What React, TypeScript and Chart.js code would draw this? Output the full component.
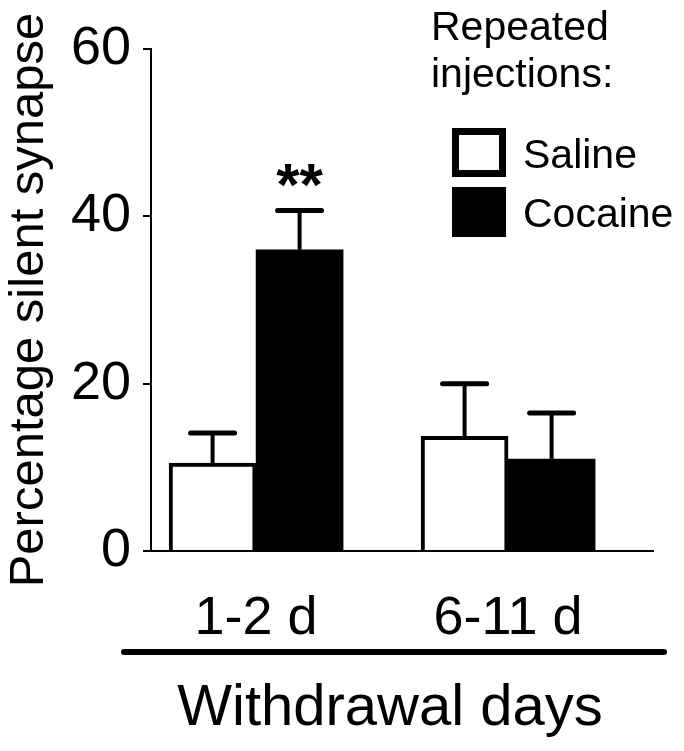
import React, { useEffect, useRef } from 'react';
import { Chart, registerables } from 'chart.js';

Chart.register(...registerables);

// ---- data ----
const categories = ['1-2 d', '6-11 d'];
const salineValues = [10.5, 13.7];
const salineErrors = [3.6, 6.3];
const cocaineValues = [36.0, 11.0];
const cocaineErrors = [4.7, 5.5];
const cocaineMarks = ['**', ''];
const yTickValues = [0, 20, 40, 60];
const seriesNames = ['Saline', 'Cocaine'];
const legendTitle = ['Repeated', 'injections:'];
const yAxisTitle = 'Percentage silent synapse';
const xAxisTitle = 'Withdrawal days';

const FONT = '"Liberation Sans", Arial, Helvetica, sans-serif';

const errorsByDataset = [salineErrors, cocaineErrors];
const marksByDataset = [['', ''], cocaineMarks];

const errorBarPlugin = {
  id: 'errorBars',
  afterDatasetsDraw(chart: any) {
    const ctx = chart.ctx;
    const yScale = chart.scales.y;
    chart.data.datasets.forEach((ds: any, di: number) => {
      const meta = chart.getDatasetMeta(di);
      meta.data.forEach((el: any, i: number) => {
        const v = ds.data[i].y;
        const e = errorsByDataset[di][i];
        const yTop = yScale.getPixelForValue(v);
        const yErr = yScale.getPixelForValue(v + e);
        ctx.save();
        ctx.strokeStyle = '#000';
        ctx.lineWidth = 4;
        ctx.lineCap = 'butt';
        ctx.beginPath();
        ctx.moveTo(el.x, yTop);
        ctx.lineTo(el.x, yErr);
        ctx.stroke();
        ctx.lineWidth = 5;
        ctx.lineCap = 'round';
        ctx.beginPath();
        ctx.moveTo(el.x - 22, yErr);
        ctx.lineTo(el.x + 22, yErr);
        ctx.stroke();
        const mark = marksByDataset[di][i];
        if (mark) {
          ctx.fillStyle = '#000';
          ctx.font = `bold 60px ${FONT}`;
          ctx.textAlign = 'center';
          ctx.textBaseline = 'alphabetic';
          ctx.fillText(mark, el.x, yErr - 5);
        }
        ctx.restore();
      });
    });
  },
};

const decorPlugin = {
  id: 'decor',
  afterDraw(chart: any) {
    const ctx = chart.ctx;
    ctx.save();
    // thick line under the category labels
    ctx.strokeStyle = '#000';
    ctx.lineWidth = 6;
    ctx.lineCap = 'round';
    ctx.beginPath();
    ctx.moveTo(124, 652);
    ctx.lineTo(664, 652);
    ctx.stroke();

    ctx.fillStyle = '#000';
    ctx.textBaseline = 'alphabetic';
    // x title
    ctx.font = `58px ${FONT}`;
    ctx.textAlign = 'center';
    ctx.fillText(xAxisTitle, 390, 725);

    // legend
    ctx.font = `41px ${FONT}`;
    ctx.textAlign = 'left';
    ctx.fillText(legendTitle[0], 431, 40);
    ctx.fillText(legendTitle[1], 431, 87);

    // saline box
    ctx.fillStyle = '#000';
    ctx.fillRect(452, 128, 54, 49);
    ctx.fillStyle = '#fff';
    ctx.fillRect(459, 135, 40, 35);
    // cocaine box
    ctx.fillStyle = '#000';
    ctx.fillRect(452, 187, 54, 50);

    ctx.fillText(seriesNames[0], 523, 168);
    ctx.fillText(seriesNames[1], 523, 227);
    ctx.restore();
  },
};

export default function App() {
  const ref = useRef<HTMLCanvasElement | null>(null);

  useEffect(() => {
    if (!ref.current) return;
    const chart = new Chart(ref.current, {
      type: 'bar',
      data: {
        datasets: [
          {
            label: seriesNames[0],
            data: salineValues.map((y, i) => ({ x: i, y })),
            backgroundColor: '#ffffff',
            borderColor: '#000000',
            borderWidth: 4,
            barThickness: 87,
          },
          {
            label: seriesNames[1],
            data: cocaineValues.map((y, i) => ({ x: i, y })),
            backgroundColor: '#000000',
            borderColor: '#000000',
            borderWidth: 0,
            barThickness: 87,
          },
        ],
      },
      options: {
        responsive: false,
        animation: false,
        layout: { padding: { top: 49, right: 31, left: 0, bottom: 0 } },
        plugins: {
          legend: { display: false },
          tooltip: { enabled: false },
        },
        scales: {
          x: {
            type: 'linear',
            offset: false,
            min: -0.417,
            max: 1.575,
            grid: { display: false, offset: false },
            border: { display: true, color: '#000', width: 2 },
            afterBuildTicks: (scale: any) => {
              scale.ticks = categories.map((_, i) => ({ value: i }));
            },
            afterFit: (scale: any) => {
              scale.height = 200;
            },
            ticks: {
              color: '#000',
              padding: 28,
              font: { family: FONT, size: 54 },
              callback: (v: any) => categories[v] ?? '',
            },
          },
          y: {
            min: 0,
            max: 60,
            afterBuildTicks: (scale: any) => {
              scale.ticks = yTickValues.map((v) => ({ value: v }));
            },
            afterFit: (scale: any) => {
              scale.width = 151;
            },
            grid: {
              display: true,
              drawOnChartArea: false,
              drawTicks: true,
              tickLength: 8,
              color: '#000',
              lineWidth: 2,
            },
            border: { display: true, color: '#000', width: 2 },
            ticks: {
              color: '#000',
              padding: 12,
              font: { family: FONT, size: 54 },
            },
            title: {
              display: true,
              text: yAxisTitle,
              color: '#000',
              font: { family: FONT, size: 49 },
              padding: { top: 0, bottom: 0 },
            },
          },
        },
      },
      plugins: [errorBarPlugin, decorPlugin],
    } as any);
    return () => chart.destroy();
  }, []);

  return (
    <div style={{ position: 'fixed', left: 0, top: 0, width: 684, height: 751, background: '#fff' }}>
      <canvas ref={ref} width={684} height={751} style={{ width: 684, height: 751, display: 'block' }} />
    </div>
  );
}
